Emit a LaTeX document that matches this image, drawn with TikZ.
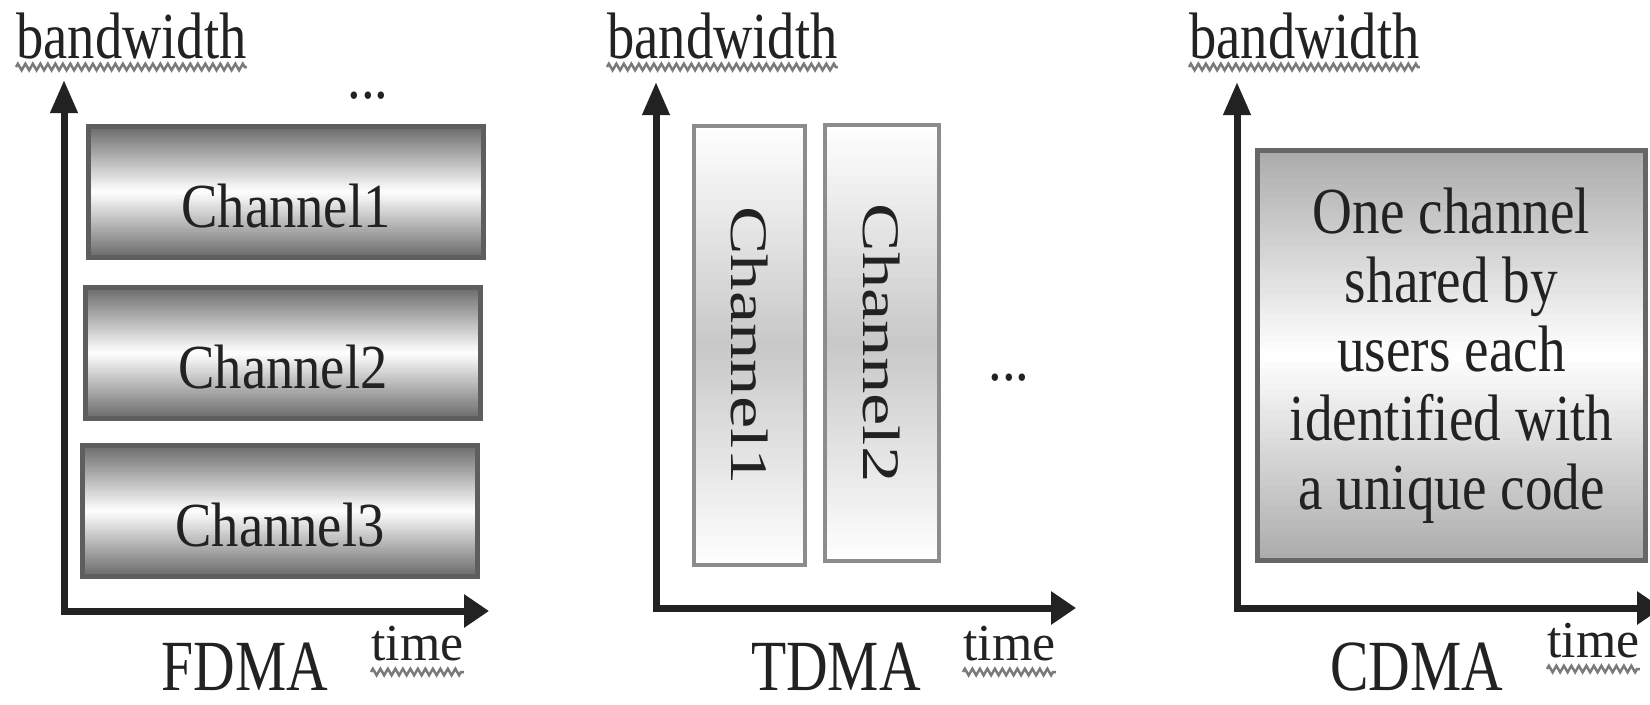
\documentclass[tikz,border=0pt]{standalone}
\usepackage{fontspec}
\setmainfont{Liberation Serif}
% condensed / stretched cuts of the same serif
\newfontfamily\axisfont[FakeStretch=0.83]{Liberation Serif}
\newfontfamily\chanfont[FakeStretch=0.87]{Liberation Serif}
\newfontfamily\notefont[FakeStretch=0.84]{Liberation Serif}
\newfontfamily\titlefont[FakeStretch=0.8]{Liberation Serif}
\newfontfamily\timefont[FakeStretch=1.0]{Liberation Serif}
\newfontfamily\tallfont[FakeStretch=1.38]{Liberation Serif}
\usetikzlibrary{arrows.meta,decorations.pathmorphing,calc}

\definecolor{ink}{HTML}{222222}
\definecolor{fdmaedge}{HTML}{5E5E5E}
\definecolor{fdmadark}{HTML}{6A6A6A}
\definecolor{tdmaedge}{HTML}{8C8C8C}
\definecolor{tdmamid}{HTML}{C8C8C8}
\definecolor{cdmaedge}{HTML}{666666}
\definecolor{cdmadark}{HTML}{ABABAB}
\definecolor{squigcol}{HTML}{7A7A7A}

% vertical three-stop gradient (edge -> middle -> edge) filled in bands
% #1 node name, #2 edge colour, #3 middle colour
\newcommand\bandfill[3]{%
  \foreach \k in {1,...,60}{%
    \pgfmathsetmacro\bandpos{abs(2*(\k-0.5)/60-1)}%
    \pgfmathsetmacro\bandpct{100*(1-\bandpos)}%
    \fill[#3!\bandpct!#2]
      ($(#1.north west)!{(\k-1)/60}!(#1.south west)$) rectangle
      ($(#1.north east)!{min(1,(\k+0.4)/60)}!(#1.south east)$);
  }%
}

\begin{document}
\begin{tikzpicture}[x=0.02cm,y=-0.02cm,
  axes/.style={draw=ink, line width=0.14cm, line join=miter,
    {Triangle[length=0.66cm,width=0.52cm]}-{Triangle[length=0.5cm,width=0.64cm]}},
  txt/.style={inner sep=0pt, text=ink},
  bwlabel/.style={txt, anchor=base west, font={\axisfont\fontsize{37.4}{40}\selectfont}},
  timelabel/.style={txt, anchor=base west, font={\timefont\fontsize{29.5}{32}\selectfont}},
  title/.style={txt, anchor=base, font={\titlefont\fontsize{41}{44}\selectfont}},
  chlabel/.style={txt, anchor=base, font={\chanfont\fontsize{35.7}{40}\selectfont}},
  vlabel/.style={txt, rotate=-90, font={\tallfont\fontsize{30}{34}\selectfont}},
  dots/.style={txt, anchor=base, font={\chanfont\fontsize{35.7}{40}\selectfont}},
  note/.style={txt, align=center, font={\notefont\fontsize{37.4}{39.2}\selectfont}},
  squig/.style={draw=squigcol, line width=0.05cm,
    decorate, decoration={zigzag, segment length=0.15cm, amplitude=0.065cm}},
  fslot/.style={rectangle, inner sep=0pt, minimum width=7.88cm, minimum height=2.62cm},
  tslot/.style={rectangle, inner sep=0pt, minimum height=8.76cm},
  cslot/.style={rectangle, inner sep=0pt, minimum width=7.76cm, minimum height=8.2cm},
  fedge/.style={draw=fdmaedge, line width=0.1cm},
  tedge/.style={draw=tdmaedge, line width=0.08cm},
  cedge/.style={draw=cdmaedge, line width=0.1cm},
]
\useasboundingbox (0,0) rectangle (1650,704);
\clip (0,0) rectangle (1650,704);

% ---------------- FDMA ----------------
\coordinate (fy) at (64,80);
\coordinate (fo) at (64,611);
\coordinate (fx) at (489,611);
\draw[axes] (fy) -- (fo) -- (fx);

\node[bwlabel] (fbw) at (16,58) {bandwidth};
\draw[squig] ($(fbw.base west)+(0,9)$) -- ($(fbw.base east)+(0,9)$);

\node[dots] (fdots) at (368,98) {...};

\node[fslot] (f1) at (286,192) {};
\node[fslot] (f2) at (283,353) {};
\node[fslot] (f3) at (280,511) {};
\foreach \b in {f1,f2,f3}{
  \bandfill{\b}{fdmadark}{white}
  \draw[fedge] (\b.north west) rectangle (\b.south east);
}
\node[chlabel] (f1t) at ($(f1.center)+(0,35)$) {Channel1};
\node[chlabel] (f2t) at ($(f2.center)+(0,35)$) {Channel2};
\node[chlabel] (f3t) at ($(f3.center)+(0,35)$) {Channel3};

\node[timelabel] (ftime) at (371,660) {time};
\draw[squig] ($(ftime.base west)+(0,12)$) -- ($(ftime.base east)+(0,12)$);
\node[title] (ftitle) at (245,690) {FDMA};

% ---------------- TDMA ----------------
\coordinate (ty) at (656,82);
\coordinate (to) at (656,608);
\coordinate (tx) at (1076,608);
\draw[axes] (ty) -- (to) -- (tx);

\node[bwlabel] (tbw) at (607,58) {bandwidth};
\draw[squig] ($(tbw.base west)+(0,9)$) -- ($(tbw.base east)+(0,9)$);

\node[tslot, minimum width=2.22cm] (t1) at (749.5,345.5) {};
\node[tslot, minimum width=2.28cm, minimum height=8.72cm] (t2) at (882,343) {};
\foreach \b in {t1,t2}{
  \bandfill{\b}{white}{tdmamid}
  \draw[tedge] (\b.north west) rectangle (\b.south east);
}
\node[vlabel] (t1t) at (t1.center) {Channel1};
\node[vlabel] (t2t) at (t2.center) {Channel2};
\node[dots] (tdots) at (1009,380) {...};

\node[timelabel] (ttime) at (963,660) {time};
\draw[squig] ($(ttime.base west)+(0,12)$) -- ($(ttime.base east)+(0,12)$);
\node[title] (ttitle) at (836,690) {TDMA};

% ---------------- CDMA ----------------
\coordinate (cy) at (1237,82);
\coordinate (co) at (1237,608);
\coordinate (cx) at (1662,608);
\draw[axes] (cy) -- (co) -- (cx);

\node[bwlabel] (cbw) at (1189,58) {bandwidth};
\draw[squig] ($(cbw.base west)+(0,9)$) -- ($(cbw.base east)+(0,9)$);

\node[cslot] (c1) at (1451.5,355.5) {};
\bandfill{c1}{cdmadark}{white}
\draw[cedge] (c1.north west) rectangle (c1.south east);
\node[note] (c1t) at (c1.center)
  {One channel\\shared by\\users each\\identified with\\a unique code};

\node[timelabel] (ctime) at (1547,657) {time};
\draw[squig] ($(ctime.base west)+(0,12)$) -- ($(ctime.base east)+(0,12)$);
\node[title] (ctitle) at (1417,690) {CDMA};
\end{tikzpicture}
\end{document}
